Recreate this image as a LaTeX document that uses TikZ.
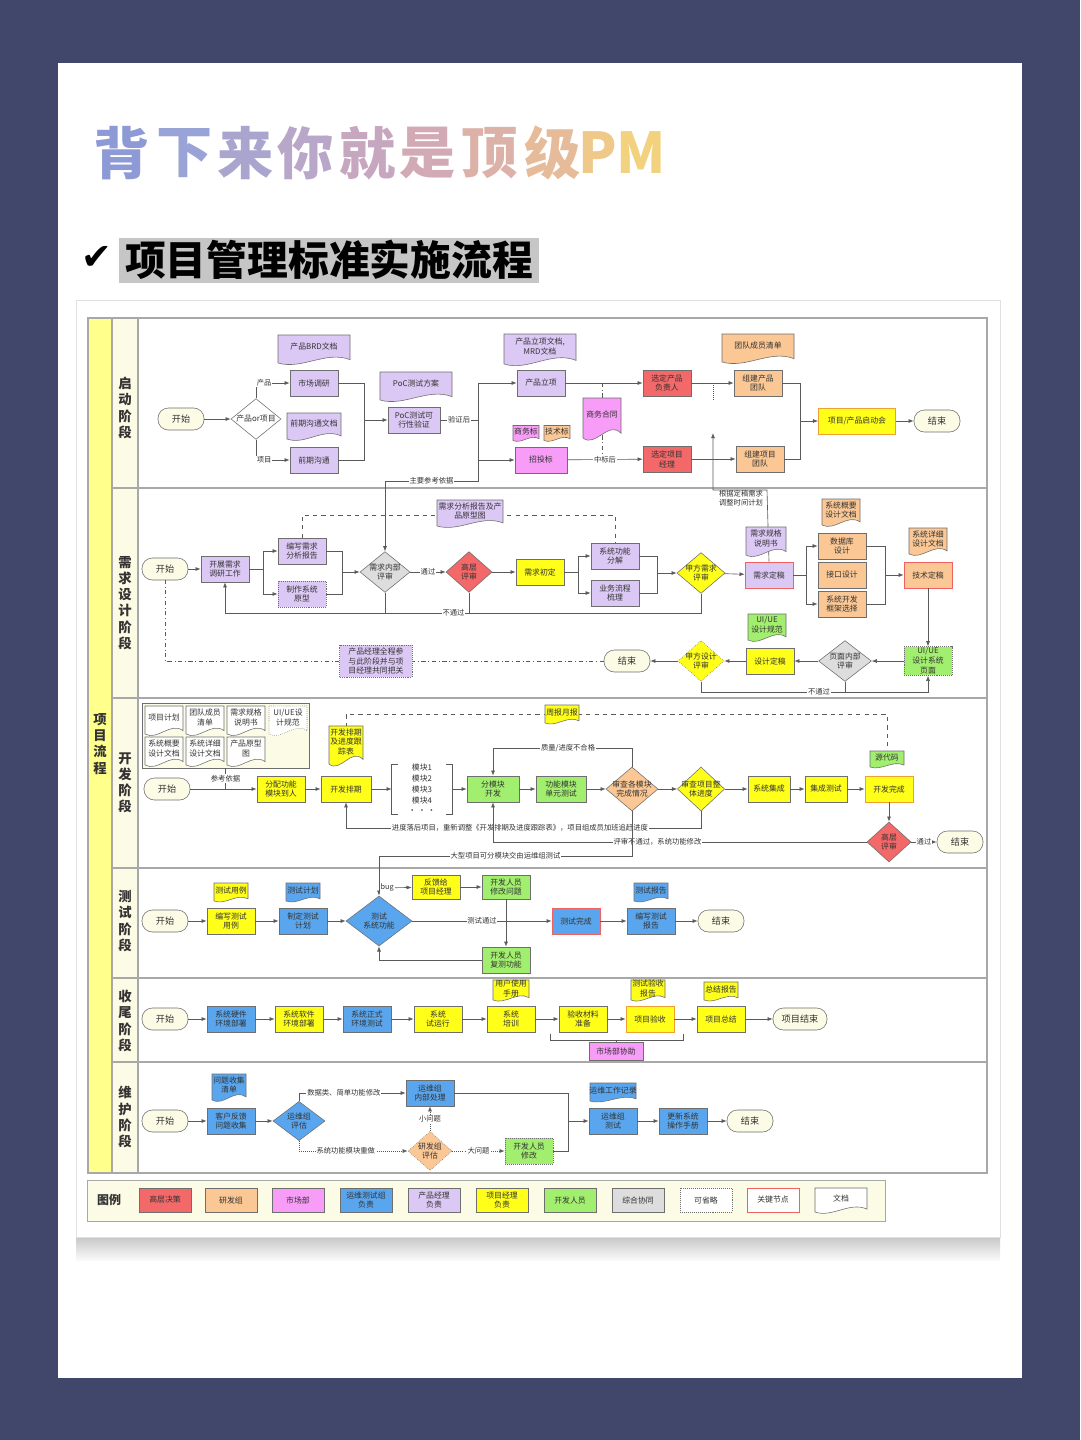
\documentclass[tikz,border=0pt]{standalone}
\usepackage{fontspec}
\setmainfont{Noto Sans CJK SC}
\newfontfamily\symfont{DejaVu Sans}
\usetikzlibrary{arrows.meta,shapes.geometric,calc}
\definecolor{BG}{HTML}{41476A}
\definecolor{INK}{HTML}{333333}
\definecolor{LN}{HTML}{5A5A5A}
\definecolor{BD}{HTML}{6E6E6E}
\definecolor{SEP}{HTML}{A8A8A8}
\definecolor{KEY}{HTML}{F06262}
\definecolor{ORB}{HTML}{F0A030}
\definecolor{RED}{HTML}{F36868}
\definecolor{ORG}{HTML}{FBC794}
\definecolor{PNK}{HTML}{F79CF7}
\definecolor{BLU}{HTML}{5AA6EE}
\definecolor{LAV}{HTML}{DCC8F4}
\definecolor{YEL}{HTML}{FFFF1A}
\definecolor{GRN}{HTML}{A2EE6E}
\definecolor{GRY}{HTML}{DDDDDD}
\definecolor{CRM}{HTML}{FCFBE6}
\definecolor{LANE}{HTML}{FFFF8C}
\definecolor{HL}{HTML}{C6C6C6}
\newcommand{\fs}{\fontsize{5.6}{7}\selectfont}
% document shape: [opts]{name}{x}{y}{w}{h}{fill}{text}
\newcommand{\wdoc}[8][]{%
 \begin{scope}[shift={(#3,#4)}]
 \filldraw[fill=#7,draw=BD,line width=0.4pt,#1] ({-#5/2},{-#6/2}) -- ({#5/2},{-#6/2}) -- ({#5/2},{0.38*#6}) .. controls ({#5/6},{0.05*#6}) and ({-#5/6},{0.75*#6}) .. ({-#5/2},{0.5*#6}) -- cycle;
 \end{scope}
 \node[doctext] (#2) at (#3,{#4-0.08*#6}) {#8};}
\tikzset{
 ln/.style={LN,line width=0.45pt},
 ar/.style={ln,-{Latex[length=1.3mm,width=1mm]}},
 box/.style={draw=BD,line width=0.4pt,minimum width=1.2cm,minimum height=0.65cm,inner sep=0.5pt,align=center,font=\fs,text=INK},
 startnd/.style={draw=BD,fill=CRM,line width=0.4pt,rounded corners=0.26cm,minimum width=1.15cm,minimum height=0.55cm,font=\fontsize{6.5}{7}\selectfont,text=INK},
 dia/.style={draw=BD,line width=0.4pt,shape=diamond,aspect=1.2,inner sep=-2.5pt,minimum width=1.25cm,minimum height=1.02cm,align=center,font=\fs,text=INK},
 optnd/.style={densely dotted},
 keynd/.style={draw=KEY},
 lbl/.style={fill=white,inner sep=0.6pt,font=\fontsize{5.2}{6}\selectfont,text=INK},
 doctext/.style={inner sep=0pt,align=center,font=\fs,text=INK},
 stage/.style={align=center,font=\fontsize{9.5}{11.5}\selectfont\bfseries,text=INK},
 sep/.style={draw=SEP,line width=0.9pt}
}
\begin{document}
\begin{tikzpicture}[x=0.025cm,y=-0.025cm]
\useasboundingbox (0,0) rectangle (1080,1440);
\fill[BG] (0,0) rectangle (1080,1440);
\fill[white] (58,63) rectangle (1022,1378);
% title
\node[font=\fontsize{40}{40}\selectfont\bfseries] (t1) at (122,153) {\color[HTML]{8D9AD6}背};
\node[font=\fontsize{40}{40}\selectfont\bfseries] (t2) at (185,153) {\color[HTML]{9AA3D6}下};
\node[font=\fontsize{40}{40}\selectfont\bfseries] (t3) at (246,153) {\color[HTML]{A9A5CF}来};
\node[font=\fontsize{40}{40}\selectfont\bfseries] (t4) at (306,153) {\color[HTML]{B8A7C8}你};
\node[font=\fontsize{40}{40}\selectfont\bfseries] (t5) at (368,153) {\color[HTML]{C7A7BF}就};
\node[font=\fontsize{40}{40}\selectfont\bfseries] (t6) at (428,153) {\color[HTML]{D2AAB5}是};
\node[font=\fontsize{40}{40}\selectfont\bfseries] (t7) at (490,153) {\color[HTML]{DCB1A8}顶};
\node[font=\fontsize{40}{40}\selectfont\bfseries] (t8) at (553,153) {\color[HTML]{E6BB9A}级};
\node[font=\fontsize{40}{40}\selectfont\bfseries] (t9) at (622,153) {\color[HTML]{EEC98A}P\color[HTML]{F2D27E}M};
% subtitle
\fill[HL] (119,238) rectangle (539,283);
\node[font=\symfont\fontsize{26}{26}\selectfont] (chk) at (97,258) {✔};
\node[font=\fontsize{29}{29}\selectfont\bfseries,text=black] (sub) at (329,260) {项目管理标准实施流程};
% screenshot frame
\shade[top color=black!22,bottom color=white] (76,1237) rectangle (1000,1262);
\filldraw[fill=white,draw=black!12] (76,300) rectangle (1000,1237);
% lanes
\filldraw[fill=white,sep] (88,318) rectangle (987,1173);
\filldraw[fill=LANE,sep] (88,318) rectangle (112,1173);
\filldraw[fill=CRM,sep] (112,318) rectangle (138,1173);
\draw[sep] (112,488) -- (987,488);
\draw[sep] (112,698) -- (987,698);
\draw[sep] (112,868) -- (987,868);
\draw[sep] (112,978) -- (987,978);
\draw[sep] (112,1062) -- (987,1062);
\node[stage] (st0) at (100,744) {项\\目\\流\\程};
\node[stage] (st1) at (125,408) {启\\动\\阶\\段};
\node[stage] (st2) at (125,603) {需\\求\\设\\计\\阶\\段};
\node[stage] (st3) at (125,783) {开\\发\\阶\\段};
\node[stage] (st4) at (125,921) {测\\试\\阶\\段};
\node[stage] (st5) at (125,1021) {收\\尾\\阶\\段};
\node[stage] (st6) at (125,1117) {维\\护\\阶\\段};

% ---- row 1
\draw[ln,dash dot] (602,383) -- (602,460);
\draw[ln,densely dotted] (713,383) -- (713,400);
\node[startnd] (s1) at (181,419) {开始};
\node[dia,fill=white] (d1) at (256,419) {产品or项目};
\wdoc{brd}{314}{349}{72}{28}{LAV}{产品BRD文档}
\node[box,fill=LAV] (mkt) at (314,383) {市场调研};
\wdoc{pre}{314}{426}{54}{26}{LAV}{前期沟通文档}
\node[box,fill=LAV] (comm) at (314,460) {前期沟通};
\wdoc{poc}{416}{386}{72}{28}{LAV}{PoC测试方案}
\node[box,fill=LAV,minimum width=1.3cm] (pocv) at (414,420) {PoC测试可\\行性验证};
\wdoc{mrd}{540}{349}{72}{30}{LAV}{产品立项文档,\\MRD文档}
\node[box,fill=LAV] (lix) at (541,383) {产品立项};
\wdoc{swb}{526}{433}{26}{15}{PNK}{商务标}
\wdoc{jsb}{557}{433}{26}{15}{ORG}{技术标}
\node[box,fill=PNK,minimum width=1.3cm] (zb) at (541,460) {招投标};
\wdoc{ht}{602}{418}{38}{40}{PNK}{商务合同}
\node[box,fill=RED] (pm1) at (667,383) {选定产品\\负责人};
\node[box,fill=RED] (pm2) at (667,459) {选定项目\\经理};
\wdoc{team}{758}{348}{72}{28}{ORG}{团队成员清单}
\node[box,fill=ORG] (tp) at (758,383) {组建产品\\团队};
\node[box,fill=ORG] (tj) at (760,459) {组建项目\\团队};
\node[box,fill=YEL,draw=ORB,minimum width=1.93cm] (kick) at (857,421) {项目/产品启动会};
\node[startnd] (e1) at (937,421) {结束};
\coordinate (j1) at (364,420);
\coordinate (j2) at (478,420);
\coordinate (j3) at (800,421);
\coordinate (j12) at (478,481);
\draw[ar] (s1) -- (d1);
\draw[ar] (d1.north) |- node[lbl,pos=0.62]{产品} (mkt);
\draw[ar] (d1.south) |- node[lbl,pos=0.62]{项目} (comm);
\draw[ln] (mkt.east) -| (j1);
\draw[ln] (comm.east) -| (j1);
\draw[ar] (j1) -- (pocv);
\draw[ln] (pocv) -- node[lbl]{验证后} (j2);
\draw[ar] (j2) |- (lix);
\draw[ar] (j2) |- (zb);
\draw[ar] (lix) -- (pm1);
\draw[ar] (zb) -- node[lbl]{中标后} (pm2);
\draw[ar] (pm1) -- (tp);
\draw[ar] (pm2) -- (tj);
\draw[ln] (tp.east) -| (j3);
\draw[ln] (tj.east) -| (j3);
\draw[ar] (j3) -- (kick);
\draw[ar] (kick) -- (e1);

% ---- row 2
\node[startnd] (s2) at (165,569) {开始};
\node[box,fill=LAV] (dy) at (225,569) {开展需求\\调研工作};
\node[box,fill=LAV] (bx) at (302,551) {编写需求\\分析报告};
\node[box,fill=LAV,optnd] (yx) at (302,594) {制作系统\\原型};
\node[dia,fill=GRY] (rv) at (385,572) {需求内部\\评审};
\node[dia,fill=RED,minimum width=1.15cm] (gc) at (469,572) {高层\\评审};
\node[box,fill=YEL] (cd) at (540,572) {需求初定};
\node[box,fill=LAV] (fj) at (615,556) {系统功能\\分解};
\node[box,fill=LAV] (lc) at (615,593) {业务流程\\梳理};
\node[dia,fill=YEL,minimum width=1.2cm] (jf) at (701,573) {甲方需求\\评审};
\node[box,fill=LAV,keynd] (dg) at (769,575) {需求定稿};
\node[box,fill=ORG] (db) at (842,546) {数据库\\设计};
\node[box,fill=ORG] (jk) at (842,575) {接口设计};
\node[box,fill=ORG] (kj) at (842,604) {系统开发\\框架选择};
\node[box,fill=ORG,keynd] (js) at (928,575) {技术定稿};
\node[box,fill=GRN,optnd,minimum height=0.72cm] (ui) at (928,661) {UI/UE\\设计系统\\页面};
\node[dia,fill=GRY,minimum width=1.32cm] (ym) at (845,661) {页面内部\\评审};
\node[box,fill=YEL] (sd) at (770,661) {设计定稿};
\node[dia,fill=YEL,optnd,minimum width=1.15cm] (jd) at (701,661) {甲方设计\\评审};
\node[startnd] (e2) at (627,661) {结束};
\node[box,fill=LAV,optnd,minimum width=1.82cm,minimum height=0.8cm] (note) at (376,661) {产品经理全程参\\与此阶段并与项\\目经理共同把关};
\coordinate (j4) at (263,569);
\coordinate (j5) at (342,572);
\coordinate (j6) at (578,572);
\coordinate (j7) at (657,573);
\coordinate (j8) at (806,575);
\coordinate (j9) at (885,575);
\draw[ar] (j2) -- (j12) -| node[lbl,pos=0.25]{主要参考依据} (rv.north);
\draw[ar] (dg.north) -- (767,490) -| (713,433);
\node[doctext,font=\fontsize{5.2}{6.4}\selectfont] (tz) at (741,498) {根据定稿需求\\调整时间计划};
\draw[ln,dashed] (bx.north) -- (302,515) -| (fj.north);
\wdoc{yt}{470}{513}{66}{26}{LAV}{需求分析报告及产\\品原型图}
\wdoc{gg}{766}{541}{40}{28}{LAV}{需求规格\\说明书}
\wdoc{gy}{841}{512}{38}{26}{ORG}{系统概要\\设计文档}
\wdoc{xx}{928}{541}{38}{26}{ORG}{系统详细\\设计文档}
\wdoc{gf}{767}{627}{38}{26}{GRN}{UI/UE\\设计规范}
\draw[ar] (s2) -- (dy);
\draw[ln] (dy) -- (j4);
\draw[ar] (j4) |- (bx);
\draw[ar] (j4) |- (yx);
\draw[ln] (bx.east) -| (j5);
\draw[ln] (yx.east) -| (j5);
\draw[ar] (j5) -- (rv);
\draw[ar] (rv) -- node[lbl]{通过} (gc);
\draw[ar] (gc) -- (cd);
\draw[ln] (cd) -- (j6);
\draw[ar] (j6) |- (fj);
\draw[ar] (j6) |- (lc);
\draw[ln] (fj.east) -| (j7);
\draw[ln] (lc.east) -| (j7);
\draw[ar] (j7) -- (jf);
\draw[ar] (jf) -- (dg);
\draw[ln] (rv.south) -- (385,613);
\draw[ln] (gc.south) -- (469,613);
\draw[ar] (jf.south) -- (701,613) -| node[lbl,pos=0.26]{不通过} (dy.south);
\draw[ln] (dg) -- (j8);
\draw[ar] (j8) |- (db);
\draw[ar] (j8) |- (kj);
\draw[ln] (db.east) -| (j9);
\draw[ln] (kj.east) -| (j9);
\draw[ar] (j9) -- (js);
\draw[ar] (js) -- (ui);
\draw[ar] (ui) -- (ym);
\draw[ar] (ym) -- (sd);
\draw[ar] (sd) -- (jd);
\draw[ar] (jd) -- (e2);
\draw[ln] (ym.south) -- (845,692);
\draw[ar] (jd.south) -- (701,692) -| node[lbl,pos=0.26]{不通过} (ui.south);
\draw[ln,dash dot] (e2.west) -- (note.east);
\draw[ln,dash dot] (note.west) -| (s2.south);

% ---- row 3
\node[draw=BD,fill=CRM,line width=0.4pt,minimum width=4.175cm,minimum height=1.625cm] (grp) at (225.5,735.5) {};
\wdoc{g1}{164}{720}{38}{28}{white}{项目计划}
\wdoc{g2}{205}{720}{38}{28}{white}{团队成员\\清单}
\wdoc{g3}{246}{720}{38}{28}{white}{需求规格\\说明书}
\wdoc[densely dotted]{g4}{288}{720}{38}{28}{white}{UI/UE设\\计规范}
\wdoc{g5}{164}{751}{38}{28}{white}{系统概要\\设计文档}
\wdoc{g6}{205}{751}{38}{28}{white}{系统详细\\设计文档}
\wdoc{g7}{246}{751}{38}{28}{white}{产品原型\\图}
\node[startnd] (s3) at (167,789) {开始};
\node[box,fill=YEL] (fp) at (281,789) {分配功能\\模块到人};
\node[box,fill=YEL,minimum width=1.25cm] (pq) at (346,789) {开发排期};
\node[doctext,font=\fontsize{5.6}{7.6}\selectfont,minimum width=1.5cm,minimum height=1.15cm] (mk) at (422,789) {模块1\\模块2\\模块3\\模块4\\· · ·};
\node[box,fill=GRN,minimum width=1.3cm] (fmk) at (493,789) {分模块\\开发};
\node[box,fill=GRN,minimum width=1.25cm] (dc) at (561,789) {功能模块\\单元测试};
\node[dia,fill=ORG,minimum width=1.3cm,minimum height=1.1cm] (sc) at (632,789) {审查各模块\\完成情况};
\node[dia,fill=YEL,minimum width=1.18cm,minimum height=1.1cm] (sz) at (701,789) {审查项目整\\体进度};
\node[box,fill=YEL,minimum width=1.05cm] (jc) at (769,789) {系统集成};
\node[box,fill=YEL,minimum width=1.05cm] (cs) at (826,789) {集成测试};
\node[box,fill=YEL,draw=ORB] (wc) at (889,789) {开发完成};
\node[dia,fill=RED,minimum width=1.1cm,minimum height=1.0cm] (gp) at (889,842) {高层\\评审};
\node[startnd] (e3) at (960,842) {结束};
\coordinate (j11) at (225.5,789);
\draw[ln,dashed] (346,727) -- (346,714) -- (887,714) -- (887,751);
\wdoc{pb}{346}{745}{34}{38}{YEL}{开发排期\\及进度跟\\踪表}
\wdoc{zb2}{562}{714}{34}{18}{YEL}{周报月报}
\wdoc{ym2}{887}{759}{34}{16}{GRN}{源代码}
\draw[ln] (grp.south) -- node[lbl]{参考依据} (j11);
\draw[ln] ($(mk.north west)+(6,0)$) -- (mk.north west) -- (mk.south west) -- ($(mk.south west)+(6,0)$);
\draw[ln] ($(mk.north east)+(-6,0)$) -- (mk.north east) -- (mk.south east) -- ($(mk.south east)+(-6,0)$);
\draw[ar] (s3) -- (fp);
\draw[ar] (fp) -- (pq);
\draw[ar] (pq) -- (mk);
\draw[ar] (mk) -- (fmk);
\draw[ar] (fmk) -- (dc);
\draw[ar] (dc) -- (sc);
\draw[ar] (sc) -- (sz);
\draw[ar] (sz) -- (jc);
\draw[ar] (jc) -- (cs);
\draw[ar] (cs) -- (wc);
\draw[ar] (wc) -- (gp);
\draw[ar] (gp) -- node[lbl]{通过} (e3);
\draw[ar] (sc.north) -- (632,748) -| node[lbl,pos=0.23]{质量/进度不合格} (fmk.north);
\draw[ar] (sz.south) -- (701,828) -| node[lbl,pos=0.255]{进度落后项目，重新调整《开发排期及进度跟踪表》，项目组成员加班追赶进度} (pq.south);
\draw[ar] (gp.west) -| node[lbl,pos=0.28]{评审不通过，系统功能修改} (fmk.south);

% ---- row 4
\node[startnd] (s4) at (165,921) {开始};
\node[box,fill=YEL] (yl) at (231,921) {编写测试\\用例};
\node[box,fill=BLU] (jh) at (303,921) {制定测试\\计划};
\node[dia,fill=BLU,minimum width=1.65cm,minimum height=1.25cm] (cx) at (379,921) {测试\\系统功能};
\node[box,fill=YEL,minimum height=0.6cm] (fk) at (436,887) {反馈给\\项目经理};
\node[box,fill=GRN,minimum height=0.6cm] (xg) at (506,887) {开发人员\\修改问题};
\node[box,fill=GRN] (fc) at (506,960) {开发人员\\复测功能};
\node[box,fill=BLU,keynd] (wc4) at (576,921) {测试完成};
\node[box,fill=BLU] (bg) at (651,921) {编写测试\\报告};
\node[startnd] (e4) at (721,921) {结束};
\wdoc{ylw}{231}{892}{34}{18}{YEL}{测试用例}
\wdoc{jhw}{303}{892}{34}{18}{BLU}{测试计划}
\wdoc{bgw}{651}{892}{34}{18}{BLU}{测试报告}
\coordinate (j13) at (379,888);
\draw[ar] (sc.south) -- (632,856) -| node[lbl,pos=0.25]{大型项目可分模块交由运维组测试} (cx.north);
\draw[ar] (s4) -- (yl);
\draw[ar] (yl) -- (jh);
\draw[ar] (jh) -- (cx);
\draw[ar] (cx) -- node[lbl]{测试通过} (wc4);
\draw[ar] (j13) -- node[lbl,pos=0.25]{bug} (fk);
\draw[ar] (fk) -- (xg);
\draw[ar] (xg) -- (fc);
\draw[ar] (fc.west) -| (cx.south);
\draw[ar] (wc4) -- (bg);
\draw[ar] (bg) -- (e4);

% ---- row 5
\node[startnd] (s5) at (165,1019) {开始};
\node[box,fill=BLU] (yj) at (231,1019) {系统硬件\\环境部署};
\node[box,fill=YEL] (rj) at (299,1019) {系统软件\\环境部署};
\node[box,fill=BLU] (zs) at (367,1019) {系统正式\\环境测试};
\node[box,fill=YEL] (sy) at (438,1019) {系统\\试运行};
\node[box,fill=YEL] (px) at (511,1019) {系统\\培训};
\node[box,fill=YEL] (cl) at (583,1019) {验收材料\\准备};
\node[box,fill=YEL,draw=ORB] (ys) at (650,1019) {项目验收};
\node[box,fill=YEL] (zj) at (721,1019) {项目总结};
\node[startnd,minimum width=1.35cm] (e5) at (800,1019) {项目结束};
\node[box,fill=PNK,minimum width=1.35cm,minimum height=0.45cm] (sb) at (616,1051) {市场部协助};
\wdoc{scw}{511}{990}{36}{20}{YEL}{用户使用\\手册}
\wdoc{ysw}{648}{990}{34}{20}{YEL}{测试验收\\报告}
\wdoc{zjw}{721}{991}{34}{18}{YEL}{总结报告}
\coordinate (j14) at (616,1040);
\draw[ar] (s5) -- (yj);
\draw[ar] (yj) -- (rj);
\draw[ar] (rj) -- (zs);
\draw[ar] (zs) -- (sy);
\draw[ar] (sy) -- (px);
\draw[ar] (px) -- (cl);
\draw[ar] (cl) -- (ys);
\draw[ar] (ys) -- (zj);
\draw[ar] (zj) -- (e5);
\draw[ln] (550,1034) -- (550,1040) -- (683,1040) -- (683,1034);
\draw[ln] (j14) -- (sb.north);

% ---- row 6
\node[startnd] (s6) at (165,1121) {开始};
\node[box,fill=BLU] (kh) at (231,1121) {客户反馈\\问题收集};
\node[dia,fill=BLU,minimum width=1.3cm,minimum height=0.98cm] (yw) at (299,1121) {运维组\\评估};
\node[box,fill=BLU] (nb) at (430,1093) {运维组\\内部处理};
\node[dia,fill=ORG,optnd,minimum width=1.1cm,minimum height=0.98cm] (yf) at (430,1151) {研发组\\评估};
\node[box,fill=GRN,optnd] (kf) at (529,1151) {开发人员\\修改};
\node[box,fill=BLU] (cs6) at (613,1121) {运维组\\测试};
\node[box,fill=BLU] (sc6) at (683,1121) {更新系统\\操作手册};
\node[startnd] (e6) at (750,1121) {结束};
\wdoc{khw}{229}{1087}{34}{26}{BLU}{问题收集\\清单}
\wdoc{jl}{613}{1092}{46}{18}{BLU}{运维工作记录}
\coordinate (j10) at (568,1121);
\draw[ar] (s6) -- (kh);
\draw[ar] (kh) -- (yw);
\draw[ar] (yw.north) |- node[lbl,pos=0.71]{数据类、简单功能修改} (nb);
\draw[ar,densely dotted] (yw.south) |- node[lbl,pos=0.715]{系统功能模块重做} (yf);
\draw[ar,densely dotted] (yf.north) -- node[lbl]{小问题} (nb.south);
\draw[ar,densely dotted] (yf) -- node[lbl]{大问题} (kf);
\draw[ln] (nb.east) -| (j10);
\draw[ln] (kf.east) -| (j10);
\draw[ar] (j10) -- (cs6);
\draw[ar] (cs6) -- (sc6);
\draw[ar] (sc6) -- (e6);

% ---- legend
\node[draw=SEP,fill=CRM,line width=0.7pt,minimum width=19.925cm,minimum height=1.025cm] (lg) at (486.5,1200.5) {};
\node[font=\fontsize{8.5}{9}\selectfont\bfseries,text=INK] (lgt) at (109,1200) {图例};
\node[box,fill=RED,minimum width=1.3cm,minimum height=0.6cm] (lg1) at (165,1200) {高层决策};
\node[box,fill=ORG,minimum width=1.3cm,minimum height=0.6cm] (lg2) at (231,1200) {研发组};
\node[box,fill=PNK,minimum width=1.3cm,minimum height=0.6cm] (lg3) at (298,1200) {市场部};
\node[box,fill=BLU,minimum width=1.3cm,minimum height=0.6cm] (lg4) at (366,1200) {运维测试组\\负责};
\node[box,fill=LAV,minimum width=1.3cm,minimum height=0.6cm] (lg5) at (434,1200) {产品经理\\负责};
\node[box,fill=YEL,minimum width=1.3cm,minimum height=0.6cm] (lg6) at (502,1200) {项目经理\\负责};
\node[box,fill=GRN,minimum width=1.3cm,minimum height=0.6cm] (lg7) at (570,1200) {开发人员};
\node[box,fill=GRY,minimum width=1.3cm,minimum height=0.6cm] (lg8) at (638,1200) {综合协同};
\node[box,fill=white,optnd,minimum width=1.3cm,minimum height=0.6cm] (lg9) at (706,1200) {可省略};
\node[box,fill=white,keynd,minimum width=1.3cm,minimum height=0.6cm] (lg10) at (773,1200) {关键节点};
\wdoc{lg11}{841}{1200}{52}{24}{white}{文档}
\end{tikzpicture}
\end{document}
